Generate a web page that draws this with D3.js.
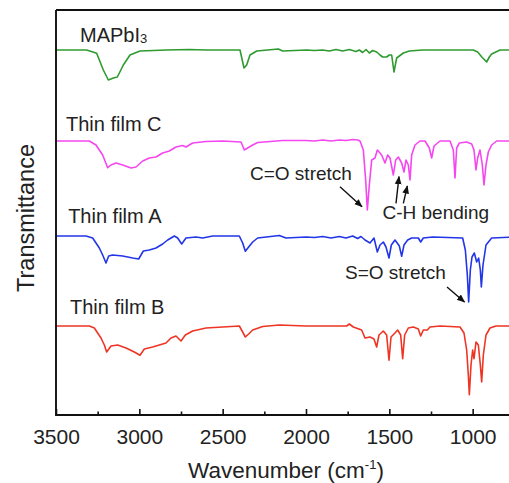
<!DOCTYPE html>
<html><head><meta charset="utf-8">
<script src="https://cdn.jsdelivr.net/npm/d3@7"></script>
<style>
html,body{margin:0;padding:0;background:#fff;}
text{font-family:"Liberation Sans",Arial,Helvetica,sans-serif;fill:#222;}
</style></head>
<body><svg id="chart" width="509" height="483"></svg>
<script>
// Wavenumber (cm^-1) and transmittance (a.u., spectra offset vertically)
const xTicksMajor = [3500, 3000, 2500, 2000, 1500, 1000];
const xTicksMinor = [3250, 2750, 2250, 1750, 1250];

const mapbi3 = [[3500,365],[3316,365],[3256,361.7],[3216,345],[3186,335],[3156,337],[3132,338],[3096,350],[3056,360],[2996,364],[2836,365],[2700,365.5],[2600,365],[2396,365],[2372,347],[2356,350],[2336,360],[2296,364],[2166,366],[2140,364],[1996,365],
[1950,364.5],[1900,365],[1860,364],[1820,365.5],[1780,364],[1740,365.5],[1700,363.5],[1680,365],[1660,362.5],[1640,365.5],[1620,362],[1600,364.5],[1576,363],[1556,360],[1540,358],[1516,358],[1500,360],[1486,360],[1472,343],[1456,357],[1440,359],[1416,362],[1380,364],[1300,365],[1100,365],[996,365],[970,363],[945,358],[916,353],[900,358],[886,361],[836,365],[750,365]];

const filmC = [[3500,274],[3300,274],[3260,270],[3220,260],[3190,247.3],[3170,250],[3140,252],[3100,250],[3050,247],[3020,248],[2980,254],[2940,257],[2900,258],[2860,262],[2820,264],[2780,268],[2740,269.5],[2720,268],[2680,272],[2600,273.5],[2500,274],[2390,273],[2370,265],[2350,267],[2320,270],[2290,272.5],[2140,274.5],[2000,274.5],
[1950,274],[1900,275],[1850,274],[1800,275],[1760,274.5],[1720,275.5],[1690,275],[1676,274],[1656,265],[1642,235],[1632,205],[1620,230],[1606,255],[1586,257],[1572,265],[1546,260],[1526,252],[1510,260],[1496,257],[1476,240],[1462,255],[1446,258],[1426,252],[1412,243],[1400,255],[1386,250],[1376,235],[1366,260],[1346,270],[1316,274],[1286,274],[1260,267],[1246,257],[1232,269],[1196,274],[1136,274],[1116,265],[1106,237],[1096,267],[1080,272],[1036,273],[1006,271],[992,265],[980,245],[970,257],[956,265],[942,250],[932,230],[920,250],[906,263],[886,270],[856,274],[750,274]];

const filmA = [[3500,179],[3320,179],[3280,177],[3240,167],[3220,160],[3200,152],[3184,159],[3160,160],[3100,159],[3040,157],[3004,156],[2976,164],[2940,165],[2900,167],[2860,171],[2830,175],[2790,179],[2770,177],[2746,171],[2720,177],[2660,178],[2620,177],[2560,179],[2400,179],[2380,172],[2364,163.7],[2344,168],[2320,173],[2290,177],[2160,179.5],[2120,177],[2000,178],
[1950,177.5],[1900,178.5],[1850,177],[1800,178.5],[1760,177],[1720,179],[1690,176.5],[1670,178.5],[1646,175],[1616,172],[1592,177],[1572,163],[1556,170],[1536,173],[1520,168],[1502,157],[1488,170],[1466,175],[1440,169],[1426,158.7],[1412,170],[1390,175],[1366,177],[1326,177],[1312,173],[1296,177],[1240,178],[1060,177],[1044,165],[1032,140],[1024,113],[1014,145],[1004,158],[990,162],[976,153],[964,157],[954,145],[948,128],[938,150],[920,170],[886,177],[750,178]];

const filmB = [[3500,89],[3300,89],[3270,87],[3230,77],[3210,70],[3196,63],[3170,69],[3130,70],[3080,67],[3030,63],[2996,59.7],[2970,66],[2920,68],[2880,70],[2840,72],[2810,77],[2780,79],[2750,74],[2724,80],[2680,84],[2600,87],[2500,88],[2400,89],[2380,83],[2364,78],[2344,81],[2320,85],[2260,88.5],[2160,90],[2000,89],[1756,89],[1740,91],[1716,88],[1666,85],[1646,77],[1616,78],[1592,76],[1576,68],[1562,80],[1536,84],[1516,80],[1502,54.7],[1490,78],[1466,82],[1450,85],[1432,80],[1420,56.3],[1408,80],[1386,87],[1356,88],[1326,86],[1312,79],[1296,85],[1272,85],[1256,88],[1196,89],[1076,88],[1052,82],[1036,65],[1026,40],[1020,20.3],[1010,50],[1000,65],[992,56.3],[980,73],[966,70],[954,50],[946,33],[936,60],[920,80],[896,87],[860,89],[750,89]];

const seriesNames = ["MAPbI3", "Thin film C", "Thin film A", "Thin film B"];
const seriesData = [mapbi3, filmC, filmA, filmB];
const seriesColors = ["#2f9a2f", "#f547f0", "#2236e8", "#ee3524"];
// label anchor: [wavenumber, value]
const labelAnchors = [[3356, 373], [3440, 284.3], [3427, 191.7], [3416, 101]];

const annotations = [
  {text: "C=O stretch", at: [2336, 235]},
  {text: "C-H bending", at: [1541, 196]},
  {text: "S=O stretch", at: [1766, 136]}
];
const arrows = [
  {from: [1796, 228.3], to: [1664, 208.3]},
  {from: [1460, 211.7], to: [1442, 238.3]},
  {from: [1416, 211.7], to: [1392, 229]},
  {from: [1154, 128], to: [1049, 113]}
];

const svg = d3.select("#chart");
const L = 56, T = 10, B = 415;
const x = d3.scaleLinear().domain([3500, 750]).range([L, L + 2750 / 6]);
const y = d3.scaleLinear().domain([0, 405]).range([B, T]);

svg.append("defs").append("marker")
  .attr("id", "ah").attr("viewBox", "0 0 10 10").attr("refX", 9).attr("refY", 5)
  .attr("markerWidth", 6).attr("markerHeight", 6).attr("orient", "auto")
  .append("path").attr("d", "M0,1 L10,5 L0,9 Z").attr("fill", "#111");

const line = d3.line().x(d => x(d[0])).y(d => y(d[1]));
seriesData.forEach((s, i) => {
  svg.append("path").datum(s).attr("d", line)
    .attr("fill", "none").attr("stroke", seriesColors[i])
    .attr("stroke-width", 1.6).attr("stroke-linejoin", "round");
});

// frame
svg.append("path").attr("d", `M${L},${T} H509 M${L},${T} V${B} H509`)
  .attr("fill", "none").attr("stroke", "#111").attr("stroke-width", 1.9);

// ticks (inward)
const xAxis = d3.axisBottom(x).tickValues(xTicksMajor).tickSize(-6).tickPadding(14).tickFormat(d3.format("d"));
const gx = svg.append("g").attr("transform", `translate(0,${B})`).call(xAxis);
gx.select(".domain").remove();
gx.selectAll(".tick line").attr("stroke", "#111").attr("stroke-width", 1.6);
gx.selectAll(".tick text").style("font-size", "21px").attr("fill", "#222")
  .style("font-family", '"Liberation Sans",Arial,sans-serif');
const gm = svg.append("g").attr("transform", `translate(0,${B})`)
  .call(d3.axisBottom(x).tickValues(xTicksMinor).tickSize(-3.5).tickFormat(""));
gm.select(".domain").remove();
gm.selectAll(".tick line").attr("stroke", "#111").attr("stroke-width", 1.6);

// axis titles
const xt = svg.append("text").attr("x", 286).attr("y", 478).attr("text-anchor", "middle")
  .style("font-size", "22.5px");
xt.append("tspan").text("Wavenumber (cm");
xt.append("tspan").text("-1").style("font-size", "13px").attr("dy", -9);
xt.append("tspan").text(")").attr("dy", 9);

svg.append("text").attr("transform", "translate(34,218) rotate(-90)")
  .attr("text-anchor", "middle").style("font-size", "23.5px").text("Transmittance");

// series labels
seriesNames.forEach((n, i) => {
  const t = svg.append("text").attr("x", x(labelAnchors[i][0])).attr("y", y(labelAnchors[i][1]))
    .style("font-size", "20px");
  if (n === "MAPbI3") {
    t.append("tspan").text("MAPbI");
    t.append("tspan").text("3").style("font-size", "13px").attr("dy", 1);
  } else t.text(n);
});

annotations.forEach(a => {
  svg.append("text").attr("x", x(a.at[0])).attr("y", y(a.at[1]))
    .style("font-size", "19px").text(a.text);
});
arrows.forEach(a => {
  svg.append("line").attr("x1", x(a.from[0])).attr("y1", y(a.from[1]))
    .attr("x2", x(a.to[0])).attr("y2", y(a.to[1]))
    .attr("stroke", "#111").attr("stroke-width", 1.4).attr("marker-end", "url(#ah)");
});
</script></body></html>
